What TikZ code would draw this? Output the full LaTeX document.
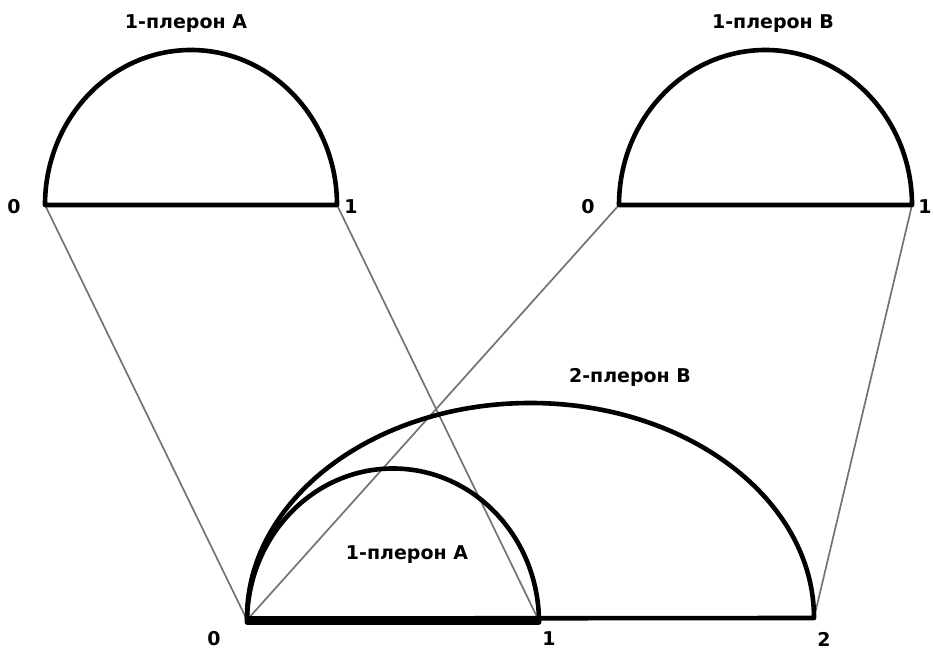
\documentclass[tikz,border=0pt]{standalone}
\usepackage{fontspec}
\setmainfont{DejaVu Sans}
\begin{document}
\begin{tikzpicture}[x=1pt,y=1pt,
  arcline/.style={line width=4.6pt,black,line join=round},
  guide/.style={line width=1.7pt,color={rgb,255:red,115;green,115;blue,115}},
  lbl/.style={font=\fontsize{19}{22}\selectfont\bfseries,inner sep=0pt,anchor=center}]
\useasboundingbox (0,0) rectangle (933,650);
% endpoints (y = 650 - pixel y)
\coordinate (a0) at (45,445);
\coordinate (a1) at (337,445);
\coordinate (b0) at (619,445);
\coordinate (b1) at (912,445);
\coordinate (c0) at (247,30);
\coordinate (c1) at (539,29);
\coordinate (c2) at (814,32);
% guide lines
\draw[guide] (a0) -- (c0);
\draw[guide] (a1) -- (c1);
\draw[guide] (b0) -- (c0);
\draw[guide] (b1) -- (c2);
% top plerons
\draw[arcline] (a0) -- (a1) arc[start angle=0,end angle=180,x radius=146,y radius=155] -- cycle;
\draw[arcline] (b0) -- (b1) arc[start angle=0,end angle=180,x radius=146.5,y radius=155] -- cycle;
% bottom 2-pleron B
\draw[arcline] (247,31.5) -- (c2) arc[start angle=0,end angle=180,x radius=283.5,y radius=215] -- cycle;
% bottom 1-pleron A
\draw[arcline] (247,27.5) -- (539,27.5) arc[start angle=0,end angle=180,x radius=146,y radius=154] -- cycle;
% labels
\node[lbl] (tA) at (186,626) {1-плерон A};
\node[lbl] (tB) at (773,626) {1-плерон B};
\node[lbl] (l0a) at (14,443) {0};
\node[lbl] (l1a) at (351,443) {1};
\node[lbl] (l0b) at (588,443) {0};
\node[lbl] (l1b) at (925,443) {1};
\node[lbl] (t2B) at (630,273) {2-плерон B};
\node[lbl] (tA2) at (407,95) {1-плерон A};
\node[lbl] (l0c) at (214,11) {0};
\node[lbl] (l1c) at (549,11) {1};
\node[lbl] (l2c) at (824,11) {2};
\end{tikzpicture}
\end{document}
